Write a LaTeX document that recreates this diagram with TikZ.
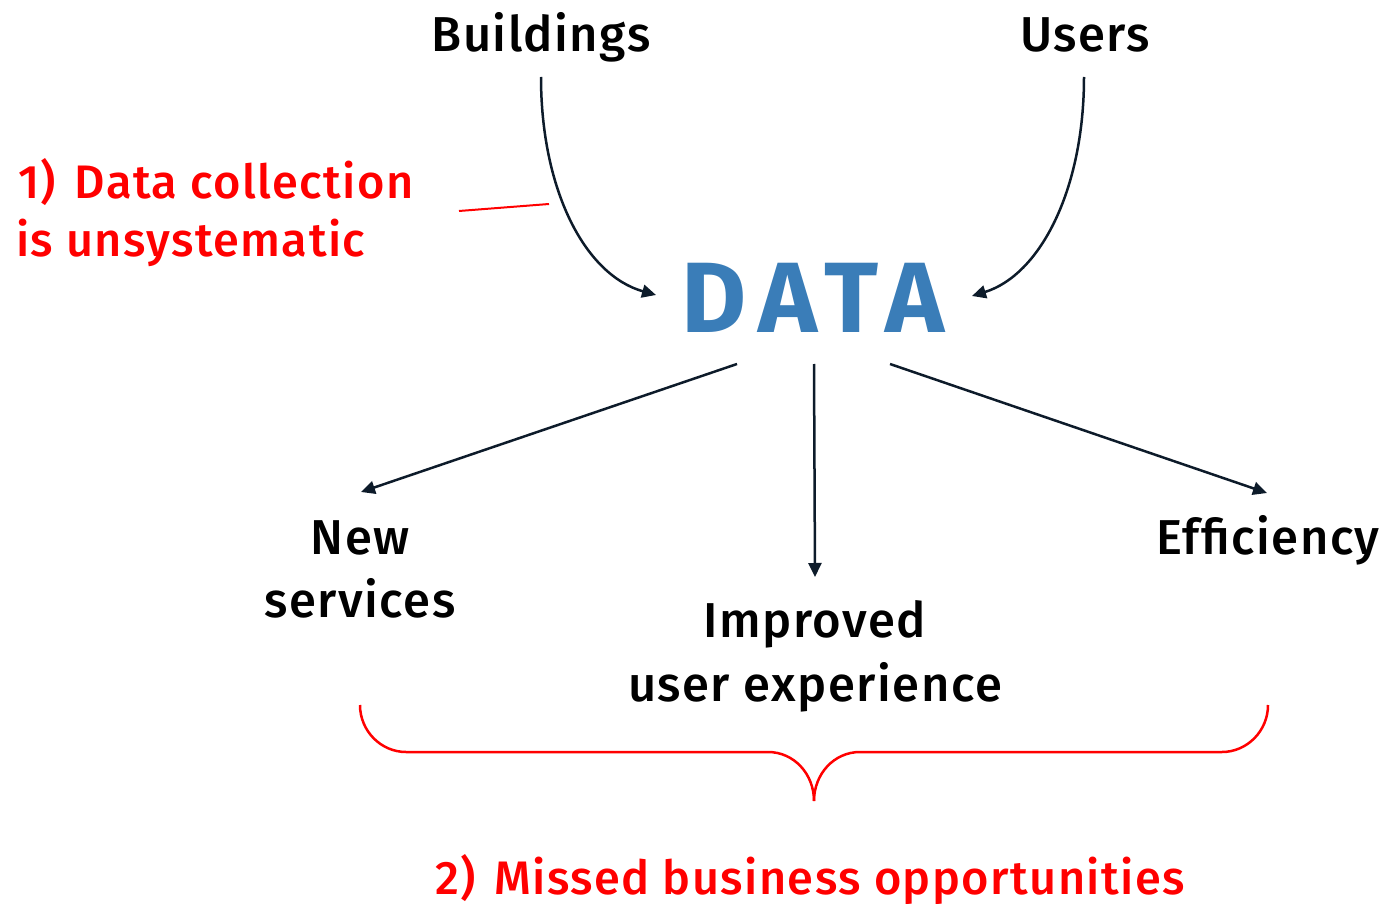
\documentclass[tikz,border=0pt]{standalone}
\usepackage{fontspec}
\setmainfont{Fira Sans}[UprightFont={* Medium}, BoldFont={* Bold}, LetterSpace=3]
\usetikzlibrary{arrows.meta}
\definecolor{navy}{HTML}{0D1B2A}
\definecolor{dblue}{HTML}{3A7DB8}
\definecolor{bred}{HTML}{FF0000}
\tikzset{
  lbl/.style={anchor=base, font=\fontsize{49}{58}\selectfont, text=black, inner sep=0pt},
  redlbl/.style={anchor=base west, font=\fontsize{47}{56}\selectfont, text=bred, inner sep=0pt},
  arr/.style={draw=navy, line width=2.5pt, -{Triangle[length=14pt,width=13pt]}},
  brace/.style={draw=bred, line width=2.5pt},
}
\begin{document}
\begin{tikzpicture}[x=1pt,y=-1pt]
\useasboundingbox (0,0) rectangle (1393,904);
% top labels
\node[lbl] (bld) at (541,52) {Buildings};
\node[lbl] (usr) at (1085,52) {Users};
\node[anchor=base, font=\fontsize{100}{110}\selectfont\bfseries\addfontfeature{LetterSpace=12}, text=dblue, inner sep=0pt] (data) at (813,332) {DATA};
% bottom labels
\node[lbl] (ns1) at (360,554) {New};
\node[lbl] (ns2) at (360,617) {services};
\node[lbl] (ie1) at (815,637) {Improved};
\node[lbl] (ie2) at (815,701) {user experience};
\node[lbl] (eff) at (1268,554) {Efficiency};
% red labels
\node[redlbl] (c1) at (18,199) {1)\hspace{0.4em}Data collection};
\node[redlbl] (c2) at (16,257) {is unsystematic};
\node[anchor=base, font=\fontsize{47}{56}\selectfont, text=bred, inner sep=0pt] (mb) at (810,894) {2)\hspace{0.4em}Missed business opportunities};
% connector coordinates
\coordinate (bs) at (541,77);
\coordinate (be) at (656,295);
\coordinate (us) at (1084,77);
\coordinate (ue) at (972,296);
\coordinate (d1) at (737,364);
\coordinate (d2) at (814,364);
\coordinate (d3) at (890,364);
\coordinate (t1) at (361,492);
\coordinate (t2) at (815,577);
\coordinate (t3) at (1267,493);
\coordinate (rl1) at (459,211);
\coordinate (rl2) at (549,204);
% curved arrows
\draw[arr] (bs) .. controls (541,190) and (585,275) .. (be);
\draw[arr] (us) .. controls (1084,190) and (1040,275) .. (ue);
% straight arrows
\draw[arr] (d1) -- (t1);
\draw[arr] (d2) -- (t2);
\draw[arr] (d3) -- (t3);
% red pointer
\draw[draw=bred, line width=2pt] (rl1) -- (rl2);
% brace
\coordinate (bl) at (360,705);
\coordinate (br) at (1268,705);
\coordinate (bt) at (814,801);
\draw[brace] (bl) .. controls (360,731) and (381,752) .. (406,752) -- (768,752) .. controls (794,752) and (814,774) .. (bt);
\draw[brace] (br) .. controls (1268,731) and (1247,752) .. (1222,752) -- (860,752) .. controls (834,752) and (814,774) .. (bt);
\end{tikzpicture}
\end{document}
